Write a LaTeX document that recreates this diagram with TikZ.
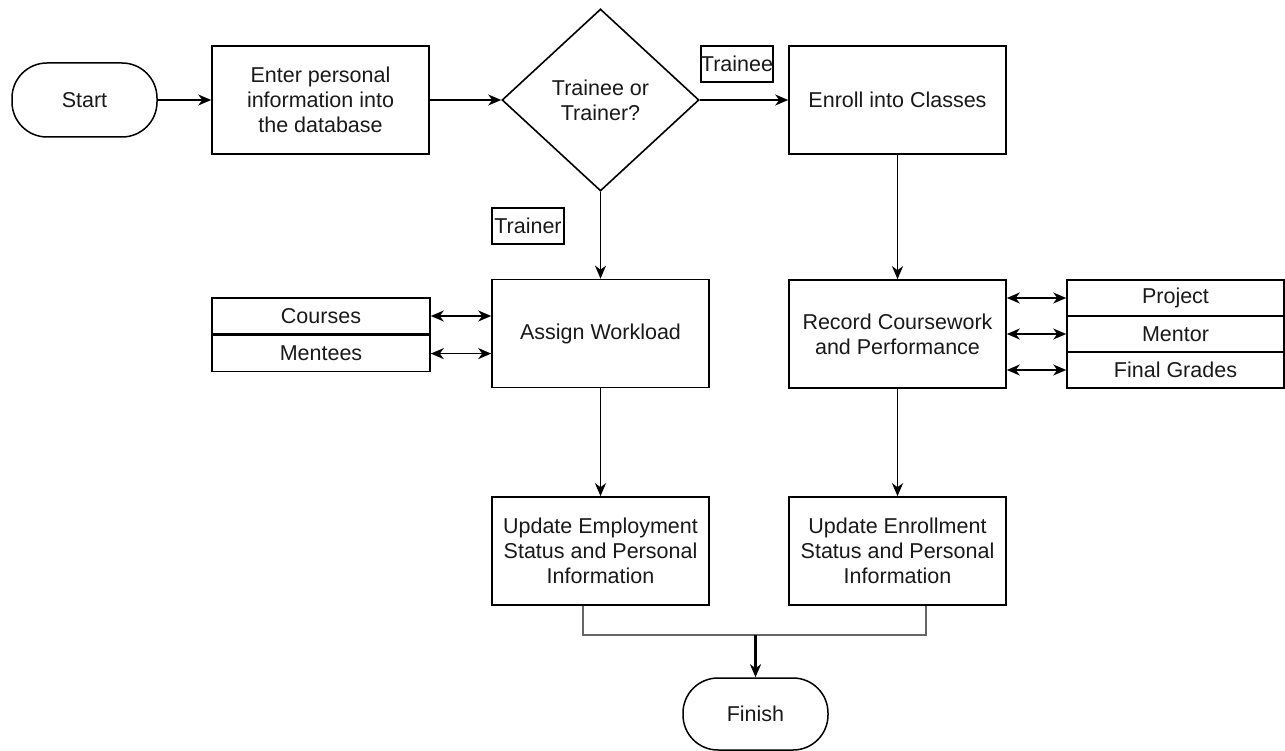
\documentclass[tikz,border=0pt]{standalone}
\usepackage{fontspec}
\setmainfont{Liberation Sans}
\usetikzlibrary{arrows.meta,shapes.geometric}
\begin{document}
\begin{tikzpicture}[x=1pt,y=-1pt,
  >={Stealth[length=13pt,width=11pt,inset=4pt]},
  every node/.style={font=\fontsize{21.5}{25}\selectfont, text=black!90, inner sep=0pt},
  box/.style={draw, line width=1.6pt, minimum width=217pt, minimum height=108pt, align=center},
  term/.style={draw, line width=1.5pt, rounded corners=35pt, minimum width=145pt, minimum height=74pt},
  decision/.style={draw, diamond, line width=1.6pt, minimum width=197pt, minimum height=182pt, aspect=1.08, align=center},
  tag/.style={draw, line width=1.5pt, minimum width=72pt, minimum height=36pt},
  cell/.style={draw, line width=1.6pt, minimum width=218pt, minimum height=36pt},
  arr/.style={line width=1.7pt, ->},
  darr/.style={line width=1.7pt, <->},
  merge/.style={line width=2pt, draw=black!60},
]
\useasboundingbox (0,0) rectangle (1285,751);

\node[term] (start) at (84.5,100) {Start};
\node[box] (enter) at (320.5,100) {Enter personal\\information into\\the database};
\node[decision] (dec) at (600.5,100) {Trainee or\\Trainer?};
\node[box] (enroll) at (897.5,100) {Enroll into Classes};
\node[tag] (ltrainee) at (737,64) {Trainee};
\node[tag] (ltrainer) at (528,226) {Trainer};

\node[box] (assign) at (600.5,333.5) {Assign Workload};
\node[cell] (courses) at (321,316) {Courses};
\node[cell, anchor=north] (mentees) at (courses.south) {Mentees};

\node[box] (record) at (897.5,334) {Record Coursework\\and Performance};
\node[cell, minimum width=217pt] (project) at (1175.5,298) {Project};
\node[cell, minimum width=217pt] (mentor) at (1175.5,334) {Mentor};
\node[cell, minimum width=217pt] (grades) at (1175.5,370) {Final Grades};

\node[box] (upemp) at (600.5,551) {Update Employment\\Status and Personal\\Information};
\node[box] (upenr) at (897.5,551) {Update Enrollment\\Status and Personal\\Information};
\node[term, minimum height=72pt] (finish) at (755.5,714) {Finish};
\coordinate (join) at (755.5,635);

\draw[arr] (start) -- (enter);
\draw[arr] (enter) -- (dec);
\draw[arr] (dec.east) -- (enroll.west);
\draw[arr] (dec.south) -- (assign.north);
\draw[arr] (enroll) -- (record);
\draw[arr] (assign) -- (upemp);
\draw[arr] (record) -- (upenr);

\draw[darr] (courses.east) -- (courses.east -| assign.west);
\draw[darr] (mentees.east) -- (mentees.east -| assign.west);
\draw[darr] (record.east |- project.west) -- (project.west);
\draw[darr] (record.east |- mentor.west) -- (mentor.west);
\draw[darr] (record.east |- grades.west) -- (grades.west);

\draw[merge] ([xshift=-17.5pt]upemp.south) |- (join) -| ([xshift=28.5pt]upenr.south);
\draw[arr, line width=2.2pt] (join) -- (finish.north);
\end{tikzpicture}
\end{document}
